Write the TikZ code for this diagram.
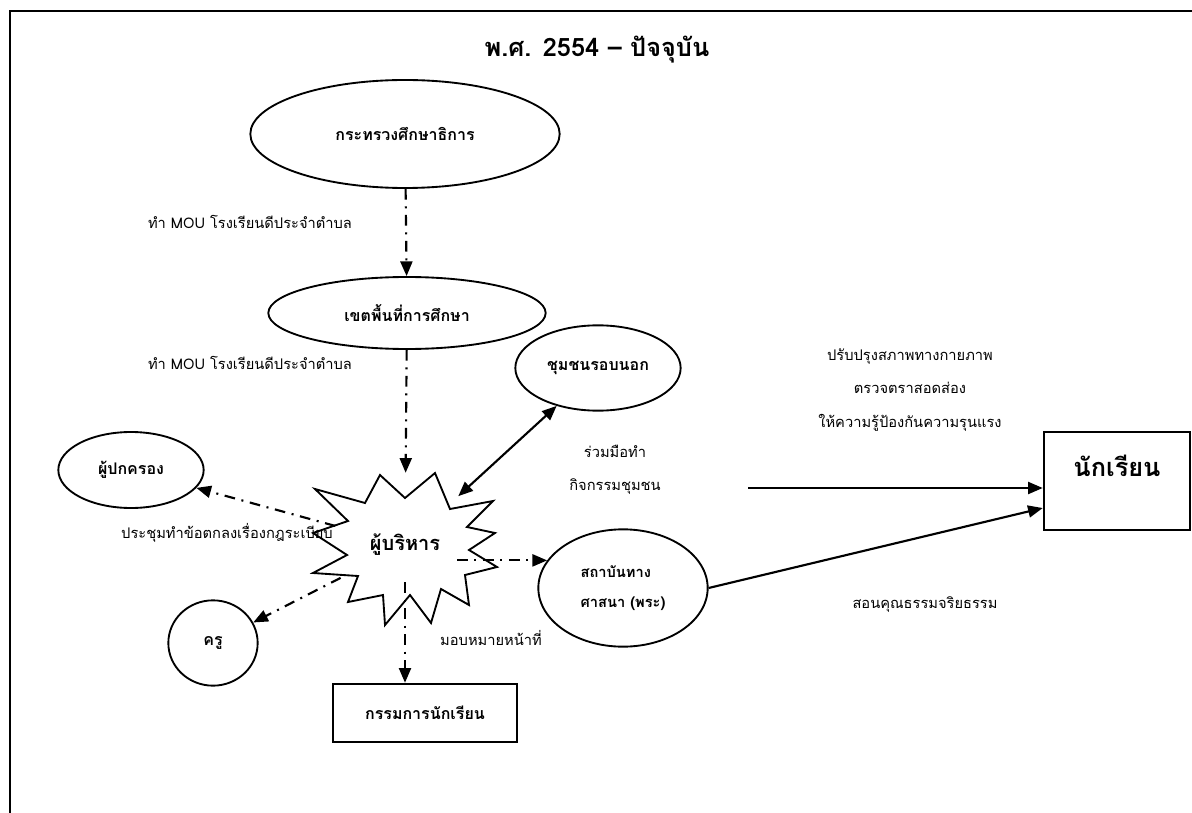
\documentclass[tikz,border=0pt]{standalone}
\usepackage{fontspec}
\setmainfont[Script=Thai]{Loma}
\usetikzlibrary{arrows.meta}
\usetikzlibrary{shapes.geometric}
\tikzset{
    blob/.style={draw,line width=1.4pt,ellipse,inner sep=0pt,font=\bfseries\fontsize{12}{14}\selectfont},
    box/.style={draw,line width=1.4pt,rectangle,inner sep=0pt,font=\bfseries\fontsize{12}{14}\selectfont},
    lbl/.style={font=\fontsize{11}{25}\selectfont,align=center},
    dd/.style={line width=1.6pt,dash pattern=on 8pt off 5pt on 1.5pt off 5pt,-{Triangle[length=11pt,width=9pt]}},
    sol/.style={line width=1.6pt,-{Triangle[length=11pt,width=9pt]}},
}

\begin{document}
\begin{tikzpicture}[x=0.75pt,y=-0.75pt]
    \useasboundingbox (0,0) rectangle (1192,813);
    \draw[line width=1.8pt] (10,813) -- (10,11) -- (1192,11);
    \node[font=\bfseries\fontsize{19}{22}\selectfont] (T) at (597,50) {พ.ศ. 2554 – ปัจจุบัน};

    \node[blob,minimum width=232pt,minimum height=81pt] (M) at (405,134) {กระทรวงศึกษาธิการ};
    \node[blob,minimum width=208pt,minimum height=54pt] (A) at (407,313) {เขตพื้นที่การศึกษา};
    \node[blob,minimum width=124pt,minimum height=64pt] (C) at (598,368) {ชุมชนรอบนอก};
    \node[blob,minimum width=109pt,minimum height=57pt] (P) at (131,470) {ผู้ปกครอง};
    \node[blob,minimum width=67pt,minimum height=64pt] (K) at (213,643) {ครู};
    \node[blob,minimum width=127pt,minimum height=88pt,align=left,font=\bfseries\fontsize{11}{22}\selectfont] (R) at (623,588) {สถาบันทาง\\ศาสนา (พระ)};
    \node[box,minimum width=138pt,minimum height=44pt] (G) at (425,713) {กรรมการนักเรียน};
    \node[box,minimum width=110pt,minimum height=74pt,text height=12pt,text depth=19pt,font=\bfseries\fontsize{19}{22}\selectfont] (S) at (1117,481) {นักเรียน};
    \node[circle,inner sep=0pt,minimum size=108pt,font=\bfseries\fontsize{15}{18}\selectfont] (B) at (405,545) {ผู้บริหาร};
    \draw[line width=1.4pt,shift={(B.center)}] (30,-72) -- (45,-36) -- (88,-44) -- (62,-18) -- (90,-12) -- (64,5)
        -- (92,22) -- (60,30) -- (64,60) -- (36,44) -- (26,78) -- (5,50) -- (-20,80) -- (-22,50)
        -- (-57,57) -- (-47,31) -- (-92,28) -- (-58,10) -- (-92,-12) -- (-57,-24) -- (-90,-56)
        -- (-40,-42) -- (-25,-70) -- (0,-47) -- cycle;

    \node[lbl] (m1) at (250,222) {ทำ MOU โรงเรียนดีประจำตำบล};
    \node[lbl] (m2) at (250,363) {ทำ MOU โรงเรียนดีประจำตำบล};
    \node[lbl] (r) at (227,533) {ประชุมทำข้อตกลงเรื่องกฎระเบียบ};
    \node[lbl] (w) at (615,470) {ร่วมมือทำ\\กิจกรรมชุมชน};
    \node[lbl] (f) at (910,390) {ปรับปรุงสภาพทางกายภาพ\\ตรวจตราสอดส่อง\\ให้ความรู้ป้องกันความรุนแรง};
    \node[lbl] (e) at (925,605) {สอนคุณธรรมจริยธรรม};
    \node[lbl] (d) at (491,638) {มอบหมายหน้าที่};
    \coordinate (F) at (748,488);

    \path [dd] (M) edge (A);
    \path [dd] (A) edge (B);
    \path [dd] (B) edge (P);
    \path [dd] (B) edge (K);
    \path [dd,shorten <=28pt] (B.center) edge (B.center |- G.north);
    \path [dd,shorten <=39pt] (R.160 -| B.center) edge (R.160);
    \path [sol,{Triangle[length=11pt,width=9pt]}-{Triangle[length=11pt,width=9pt]}] (B) edge (C);
    \path [sol] (F) edge (F -| S.west);
    \path [sol] (R.east) edge (S.200);
  \end{tikzpicture}
\end{document}
